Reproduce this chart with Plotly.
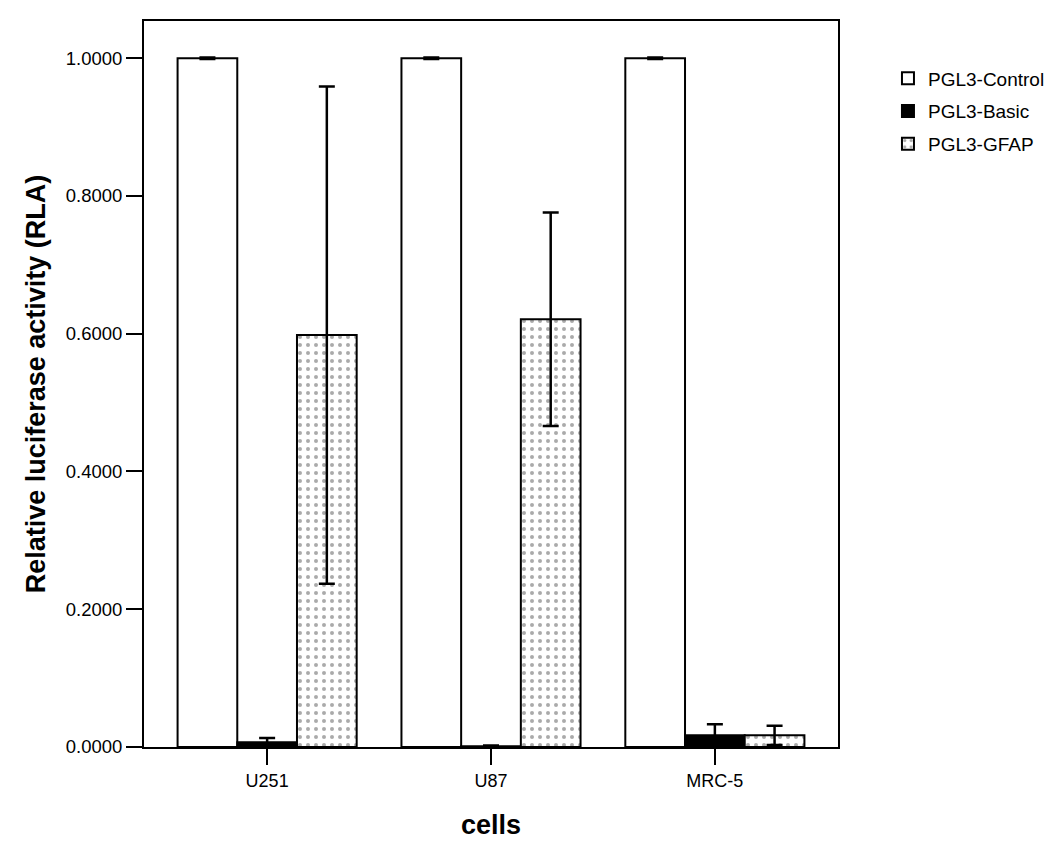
import plotly.graph_objects as go

cells = ["U251", "U87", "MRC-5"]
control = [1.0, 1.0, 1.0]
control_err = [0.001, 0.001, 0.001]
basic = [0.007, 0.001, 0.017]
basic_err = [0.006, 0.001, 0.016]
gfap = [0.598, 0.621, 0.017]
gfap_err = [0.361, 0.155, 0.014]
yticks = [0.0, 0.2, 0.4, 0.6, 0.8, 1.0]

font = "Liberation Sans, Arial, sans-serif"
eb = dict(type="data", visible=True, color="black", thickness=2.5, width=8)

fig = go.Figure()
fig.add_trace(go.Bar(name="PGL3-Control", x=cells, y=control, legendgroup="a",
                     error_y=dict(array=control_err, **eb),
                     marker=dict(color="white", line=dict(color="black", width=2))))
fig.add_trace(go.Bar(name="PGL3-Basic", x=cells, y=basic, legendgroup="b",
                     error_y=dict(array=basic_err, **eb),
                     marker=dict(color="black", line=dict(color="black", width=2))))
fig.add_trace(go.Bar(name="PGL3-GFAP", x=cells, y=gfap, legendgroup="c",
                     error_y=dict(array=gfap_err, **eb),
                     marker=dict(color="white", line=dict(color="black", width=2),
                                 pattern=dict(shape=".", fgcolor="#555555", bgcolor="white",
                                              size=8, solidity=0.2))))

fig.update_layout(
    width=1055, height=847,
    paper_bgcolor="white", plot_bgcolor="white",
    margin=dict(l=136, r=225, t=13, b=108),
    barmode="group", bargap=0.2, bargroupgap=0,
    font=dict(family=font, color="black", size=18),
    showlegend=True,
    legend=dict(x=1.072, y=0.947, xanchor="left", yanchor="top",
                font=dict(size=19, family=font), traceorder="grouped", tracegroupgap=5,
                bgcolor="rgba(0,0,0,0)"),
    xaxis=dict(range=[-0.55, 2.55], showline=True, linecolor="black", linewidth=2,
               mirror=True, ticks="outside", ticklen=16, tickwidth=2, tickcolor="black",
               tickfont=dict(size=18),
               title=dict(text="<b>cells</b>", font=dict(size=27), standoff=26)),
    yaxis=dict(range=[0, 1.054], showline=True, linecolor="black", linewidth=2,
               mirror=True, ticks="outside", ticklen=16, tickwidth=2, tickcolor="black",
               tickvals=yticks, tickformat=".4f", showgrid=False, zeroline=False,
               tickfont=dict(size=18.5),
               title=dict(text="<b>Relative luciferase activity (RLA)</b>",
                          font=dict(size=27), standoff=12)),
)

fig.write_html("out.html")
